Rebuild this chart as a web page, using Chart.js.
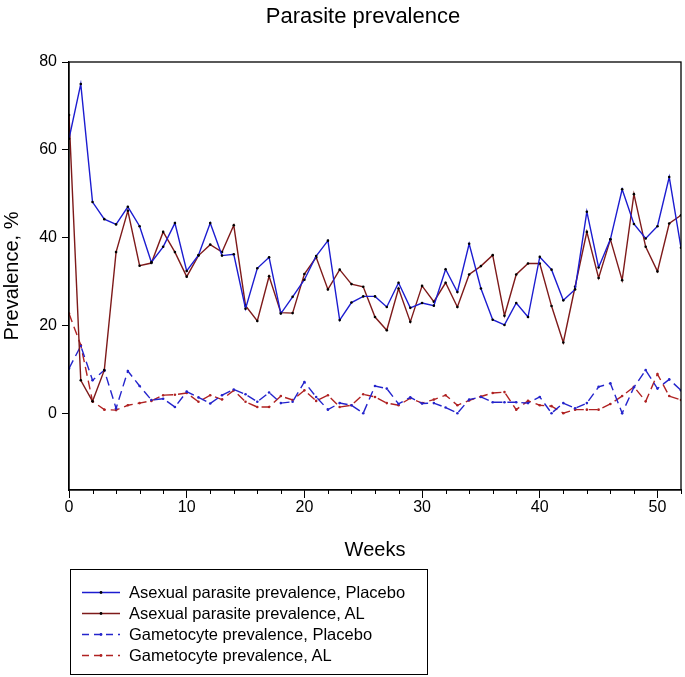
<!DOCTYPE html>
<html>
<head>
<meta charset="utf-8">
<script src="https://cdn.jsdelivr.net/npm/chart.js@4.4.1/dist/chart.umd.min.js"></script>
<style>
html, body { margin: 0; padding: 0; background: #fff; }
#wrap { position: relative; width: 685px; height: 677px; font-family: "Liberation Sans", Arial, sans-serif; color: #000; }
#title { position: absolute; left: 0; top: 3px; width: 726px; text-align: center; font-size: 22px; line-height: 26px; }
#legend { position: absolute; left: 70px; top: 569px; width: 358px; height: 106px; border: 1px solid #000; box-sizing: border-box; padding-top: 12px; }
#legend .row { height: 21px; display: flex; align-items: center; font-size: 16.5px; padding-left: 11px; }
#legend svg { margin-right: 9px; }
</style>
</head>
<body>
<div id="wrap">
  <canvas id="chart" width="685" height="677"></canvas>
  <div id="title">Parasite prevalence</div>
  <div id="legend"></div>
</div>
<script>
// Parasite prevalence by week
var weeks = [0,1,2,3,4,5,6,7,8,9,10,11,12,13,14,15,16,17,18,19,20,21,22,23,24,25,26,
  27,28,29,30,31,32,33,34,35,36,37,38,39,40,41,42,43,44,45,46,47,48,49,50,51,52];

var asexualPlacebo = [62.5,75,48.1,44.2,43,47,42.6,34.4,37.9,43.3,32.4,36,43.3,35.9,36.2,23.8,33,
  35.5,22.7,26.5,30.4,35.8,39.3,21.2,25.2,26.6,26.6,24.2,29.7,24,25.1,24.5,32.8,27.6,38.6,
  28.4,21.3,20.1,25.1,21.9,35.6,32.7,25.7,28.2,45.9,33.2,39.6,51,43.1,39.8,42.6,53.8,37.7];
var asexualAL = [67.9,7.5,2.7,9.8,36.7,46.1,33.6,34.2,41.3,36.7,31.1,35.9,38.4,36.7,42.8,24.5,21,
  31.2,22.9,22.8,31.7,35.5,28.2,32.7,29.4,28.8,21.9,18.9,28.4,20.8,29,25.4,29.7,24.2,31.6,
  33.5,36,22.2,31.6,34.1,34.1,24.4,16.1,28.8,41.3,30.8,39.6,30.3,49.9,37.9,32.3,43.2,45.1];
var gametoPlacebo = [10.2,15.3,7.5,9.8,1.1,9.6,6.2,3,3.3,1.4,4.9,3.6,2.2,4.1,5.4,4.3,2.6,4.7,2.3,
  2.6,7.1,3.7,0.8,2.3,1.8,0,6.2,5.6,2.1,3.6,2.2,2.3,1.3,0,3.1,3.7,2.5,2.5,2.5,2.3,3.7,0,2.3,
  1.1,2.3,6,6.8,0,5.9,9.8,5.6,7.7,5.2];
var gametoAL = [22.7,15.5,2.7,0.8,0.7,1.8,2.3,2.8,4.1,4.2,4.6,2.6,4.1,3.1,5.2,2.6,1.4,1.4,3.9,3,
  5.2,2.8,4.1,1.4,1.8,4.3,3.7,2.3,1.8,3.4,2.3,3.1,4.1,1.8,2.9,3.8,4.6,4.8,0.8,2.8,1.8,1.6,0,
  0.8,0.8,0.8,2.1,3.9,6,2.7,8.9,3.9,3];

var seriesNames = ['Asexual parasite prevalence, Placebo', 'Asexual parasite prevalence, AL',
  'Gametocyte prevalence, Placebo', 'Gametocyte prevalence, AL'];

var xTicks = [0, 10, 20, 30, 40, 50];
var xMinorTicks = [2,4,6,8,12,14,16,18,22,24,26,28,32,34,36,38,42,44,46,48,52];
var yTicks = [0, 20, 40, 60, 80];

var FONT = '"Liberation Sans", Arial, sans-serif';

function pts(arr) {
  return weeks.map(function (w, i) { return { x: w, y: arr[i] }; });
}

function lineSet(label, arr, color, dash, dotColor) {
  return {
    label: label,
    data: pts(arr),
    borderColor: color,
    borderWidth: 1.4,
    borderDash: dash,
    pointRadius: 1.3,
    pointBackgroundColor: dotColor,
    pointBorderWidth: 0,
    tension: 0,
    fill: false
  };
}

// frame round the plot + the small week ticks
var framePlugin = {
  id: 'frame',
  afterDraw: function (chart) {
    var ctx = chart.ctx, a = chart.chartArea, xs = chart.scales.x;
    ctx.save();
    ctx.strokeStyle = '#000';
    ctx.lineWidth = 1.3;
    ctx.strokeRect(a.left, a.top, a.right - a.left, a.bottom - a.top);
    ctx.lineWidth = 1;
    xMinorTicks.forEach(function (v) {
      var px = Math.round(xs.getPixelForValue(v)) + 0.5;
      ctx.beginPath();
      ctx.moveTo(px, a.bottom);
      ctx.lineTo(px, a.bottom + 4);
      ctx.stroke();
    });
    ctx.restore();
  }
};

var chart = new Chart(document.getElementById('chart'), {
  type: 'line',
  data: {
    datasets: [
      lineSet(seriesNames[0], asexualPlacebo, '#1c1cd0', [], '#000'),
      lineSet(seriesNames[1], asexualAL, '#7e1a1a', [], '#000'),
      lineSet(seriesNames[2], gametoPlacebo, '#2424cc', [9, 5], '#2424cc'),
      lineSet(seriesNames[3], gametoAL, '#b02222', [9, 5], '#b02222')
    ]
  },
  options: {
    responsive: false,
    animation: false,
    layout: { padding: { top: 62, right: 1, bottom: 115, left: 0 } },
    plugins: {
      legend: { display: false },
      title: { display: false },
      tooltip: { enabled: false }
    },
    scales: {
      x: {
        type: 'linear',
        min: 0,
        max: 52,
        afterBuildTicks: function (s) { s.ticks = xTicks.map(function (v) { return { value: v }; }); },
        afterFit: function (s) { s.height = 72; },
        grid: { drawOnChartArea: false, drawTicks: true, tickLength: 8, tickColor: '#000', tickWidth: 1 },
        border: { display: true, color: '#000', width: 1.3 },
        ticks: { color: '#000', padding: 0, maxRotation: 0, font: { family: FONT, size: 16 } },
        title: { display: true, text: 'Weeks', color: '#000', padding: { top: 0, bottom: 0 }, font: { family: FONT, size: 20 } }
      },
      y: {
        min: -17.5,
        max: 80,
        afterBuildTicks: function (s) { s.ticks = yTicks.map(function (v) { return { value: v }; }); },
        afterFit: function (s) { s.width = 69; },
        grid: { drawOnChartArea: false, drawTicks: true, tickLength: 7, tickColor: '#000', tickWidth: 1 },
        border: { display: true, color: '#000', width: 1.3 },
        ticks: { color: '#000', padding: 5, font: { family: FONT, size: 16 } },
        title: { display: true, text: 'Prevalence, %', color: '#000', padding: { top: 0, bottom: 0 }, font: { family: FONT, size: 20 } }
      }
    }
  },
  plugins: [framePlugin]
});

// legend box under the chart, built from the datasets
var legendEl = document.getElementById('legend');
chart.data.datasets.forEach(function (ds) {
  var dashed = ds.borderDash && ds.borderDash.length;
  var row = document.createElement('div');
  row.className = 'row';
  row.innerHTML = '<svg width="38" height="21">' +
    '<line x1="0" y1="10.5" x2="38" y2="10.5" stroke="' + ds.borderColor + '" stroke-width="1.4"' +
    (dashed ? ' stroke-dasharray="7,5"' : '') + '/>' +
    '<circle cx="19" cy="10.5" r="1.4" fill="' + ds.pointBackgroundColor + '"/></svg>';
  var span = document.createElement('span');
  span.textContent = ds.label;
  row.appendChild(span);
  legendEl.appendChild(row);
});
</script>
</body>
</html>
